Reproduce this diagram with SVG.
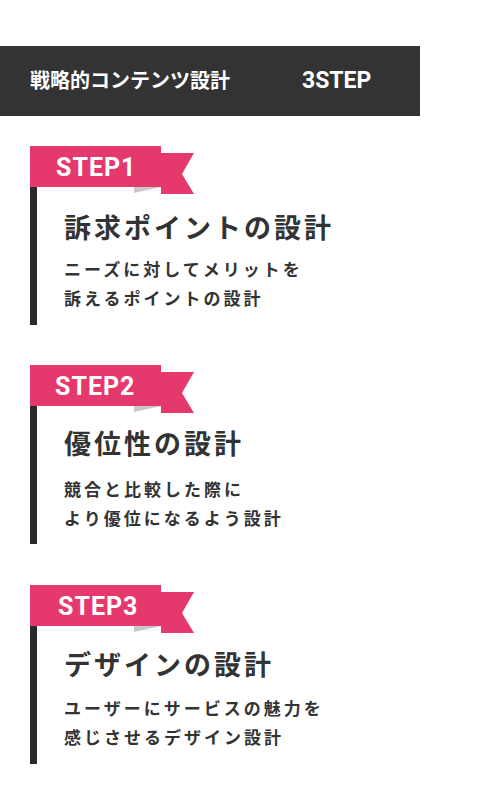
<svg xmlns="http://www.w3.org/2000/svg" width="480" height="800" viewBox="0 0 480 800">
<style>
.jp{font-family:"Noto Sans CJK JP","Noto Sans",sans-serif;}
.hdr{fill:#fff;font-size:20px;font-weight:bold;}
.en{font-family:Roboto,"Noto Sans",sans-serif;font-size:23px;}
.lbl{fill:#fff;font-family:Roboto,"Noto Sans",sans-serif;font-size:25px;font-weight:bold;letter-spacing:1px;}
.ttl{fill:#333;font-size:27px;font-weight:bold;letter-spacing:3px;}
.dsc{fill:#333;font-size:17px;font-weight:bold;letter-spacing:3px;}
.pink{fill:#e5396e;}
.fold{fill:#c8c8c8;}
.bar{fill:#2b2b2b;}
</style>
<defs>
<g id="ribbon">
<polygon class="pink" points="161,153 194,153 182,174 194,194 161,194"/>
<polygon class="fold" points="134,187 161,187 134,193"/>
<rect class="pink" x="30" y="146" width="131" height="41"/>
</g>
</defs>
<rect width="480" height="800" fill="#fff"/>
<g id="header">
<rect x="0" y="46" width="420" height="70" fill="#333"/>
<text class="jp hdr" x="30" y="88">戦略的コンテンツ設計<tspan class="en" x="302">3STEP</tspan></text>
</g>
<g id="step1">
<use href="#ribbon"/>
<rect class="bar" x="30" y="187" width="7" height="138"/>
<text class="lbl" x="56" y="176">STEP1</text>
<text class="jp ttl" x="64" y="238">訴求ポイントの設計</text>
<text class="jp dsc" x="64" y="276">ニーズに対してメリットを</text>
<text class="jp dsc" x="64" y="305">訴えるポイントの設計</text>
</g>
<g id="step2" transform="translate(0,219)">
<use href="#ribbon"/>
<rect class="bar" x="30" y="187" width="7" height="138"/>
<text class="lbl" x="55" y="176">STEP2</text>
<text class="jp ttl" x="64" y="235">優位性の設計</text>
<text class="jp dsc" x="64" y="277">競合と比較した際に</text>
<text class="jp dsc" x="64" y="306">より優位になるよう設計</text>
</g>
<g id="step3" transform="translate(0,439)">
<use href="#ribbon"/>
<rect class="bar" x="30" y="187" width="7" height="138"/>
<text class="lbl" x="58" y="176">STEP3</text>
<text class="jp ttl" x="64" y="236">デザインの設計</text>
<text class="jp dsc" x="64" y="276">ユーザーにサービスの魅力を</text>
<text class="jp dsc" x="64" y="305">感じさせるデザイン設計</text>
</g>
</svg>
